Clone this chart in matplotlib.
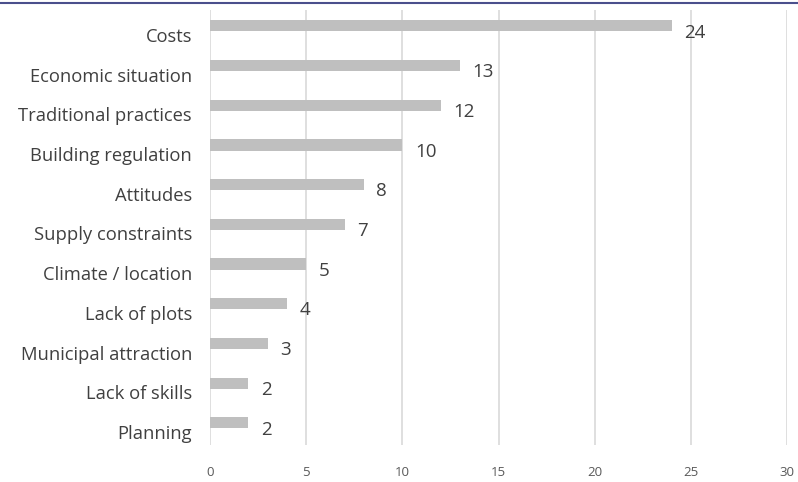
import matplotlib.pyplot as plt
from matplotlib.lines import Line2D
import numpy as np

categories = ['Costs', 'Economic situation', 'Traditional practices', 'Building regulation',
              'Attitudes', 'Supply constraints', 'Climate / location', 'Lack of plots',
              'Municipal attraction', 'Lack of skills', 'Planning']
counts = [24, 13, 12, 10, 8, 7, 5, 4, 3, 2, 2]
xticks = [0, 5, 10, 15, 20, 25, 30]

plt.rcParams['font.family'] = ['Open Sans', 'DejaVu Sans']

fig = plt.figure(figsize=(7.98, 4.82), dpi=100)
ax = fig.add_axes([210 / 798, 37 / 482, 577 / 798, 435 / 482])

pos = np.arange(len(categories))
bar_pos = pos - 0.23
ax.barh(bar_pos, counts, height=0.28, color='#bfbfbf', zorder=3)
for y, v in zip(bar_pos, counts):
    ax.text(v + 0.65, y + 0.17, str(v), va='center', ha='left', fontsize=13.5,
            color='#404040')

ax.set_xlim(0, 30)
ax.set_ylim(10.33, -0.63)
ax.set_xticks(xticks)
ax.set_xticklabels([str(t) for t in xticks], fontsize=9.5, color='#595959')
ax.set_yticks(pos)
ax.set_yticklabels(categories, fontsize=13.2, color='#404040')
ax.tick_params(axis='both', length=0)
ax.tick_params(axis='y', pad=13)
ax.tick_params(axis='x', pad=15)
ax.grid(axis='x', color='#dcdcdc', linewidth=1.3, zorder=0)
for s in ax.spines.values():
    s.set_visible(False)

fig.add_artist(Line2D([0, 1], [1 - 2.5 / 482, 1 - 2.5 / 482], color='#4b4f8c',
                      linewidth=1.5, transform=fig.transFigure))

fig.savefig('out.png', dpi=100)
